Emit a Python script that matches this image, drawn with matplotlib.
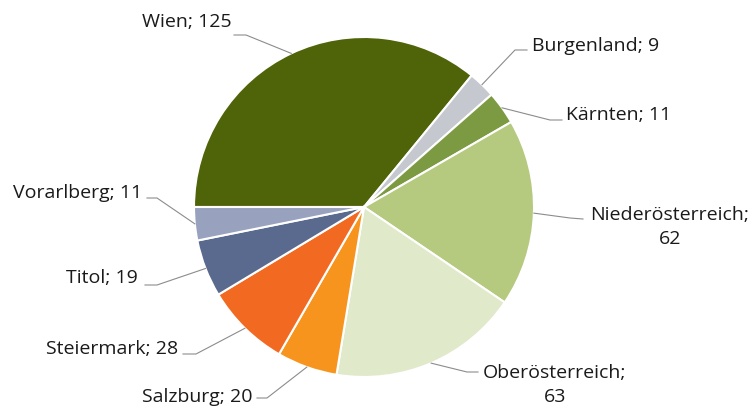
import matplotlib.pyplot as plt
import numpy as np

plt.rcParams['font.family'] = ['Open Sans', 'DejaVu Sans']

# data (clockwise from the 9 o'clock position)
regions = ['Wien', 'Burgenland', 'Kärnten', 'Niederösterreich', 'Oberösterreich',
           'Salzburg', 'Steiermark', 'Titol', 'Vorarlberg']
values = [125, 9, 11, 62, 63, 20, 28, 19, 11]
colors = ['#4f6308', '#c5c8cf', '#7b9a41', '#b5c97f', '#e1e9cb',
          '#f7941e', '#f26a22', '#5a6a8f', '#98a2be']
labels = ['Wien; 125', 'Burgenland; 9', 'Kärnten; 11', 'Niederösterreich;\n62',
          'Oberösterreich;\n63', 'Salzburg; 20', 'Steiermark; 28', 'Titol; 19',
          'Vorarlberg; 11']

# label layout in pixels (text anchor, alignment, elbow, line end)
text_pos = [(232, 22), (532, 46), (566, 115), (670, 227), (555, 385),
            (252, 397), (178, 349), (138, 278), (142, 193)]
text_ha = ['right', 'left', 'left', 'center', 'center', 'right', 'right', 'right', 'right']
elbow = [(246, 35), (515, 50), (550, 120), (570, 218), (467, 372),
         (267, 398), (196, 354), (157, 285), (157, 198)]
line_end = [(234, 35), (527, 50), (562, 120), (583, 219), (478, 372),
            (257, 398), (183, 354), (145, 285), (147, 198)]

W, H = 756, 408
cx, cy, R = 364, 207, 170


def px(p):
    return ((p[0] - cx) / R, (cy - p[1]) / R)


fig = plt.figure(figsize=(W / 100, H / 100), dpi=100)
ax = fig.add_axes([0, 0, 1, 1])

wedges, _ = ax.pie(values, colors=colors, startangle=180, counterclock=False,
                   radius=1, center=(0, 0), frame=True,
                   wedgeprops=dict(edgecolor='white', linewidth=1.5))
ax.set_xlim(-cx / R, (W - cx) / R)
ax.set_ylim(-(H - cy) / R, cy / R)
ax.axis('off')

for w, lab, tp, ha, el, le in zip(wedges, labels, text_pos, text_ha, elbow, line_end):
    mid = np.deg2rad((w.theta1 + w.theta2) / 2)
    start = (np.cos(mid), np.sin(mid))
    pts = [start, px(el), px(le)]
    ax.plot([p[0] for p in pts], [p[1] for p in pts], color='#8c8c8c', lw=0.8)
    x, y = px(tp)
    ax.text(x, y, lab, ha=ha, va='center', fontsize=14, color='#1a1a1a',
            multialignment='center', linespacing=1.4)

fig.savefig('out.png', dpi=100)
